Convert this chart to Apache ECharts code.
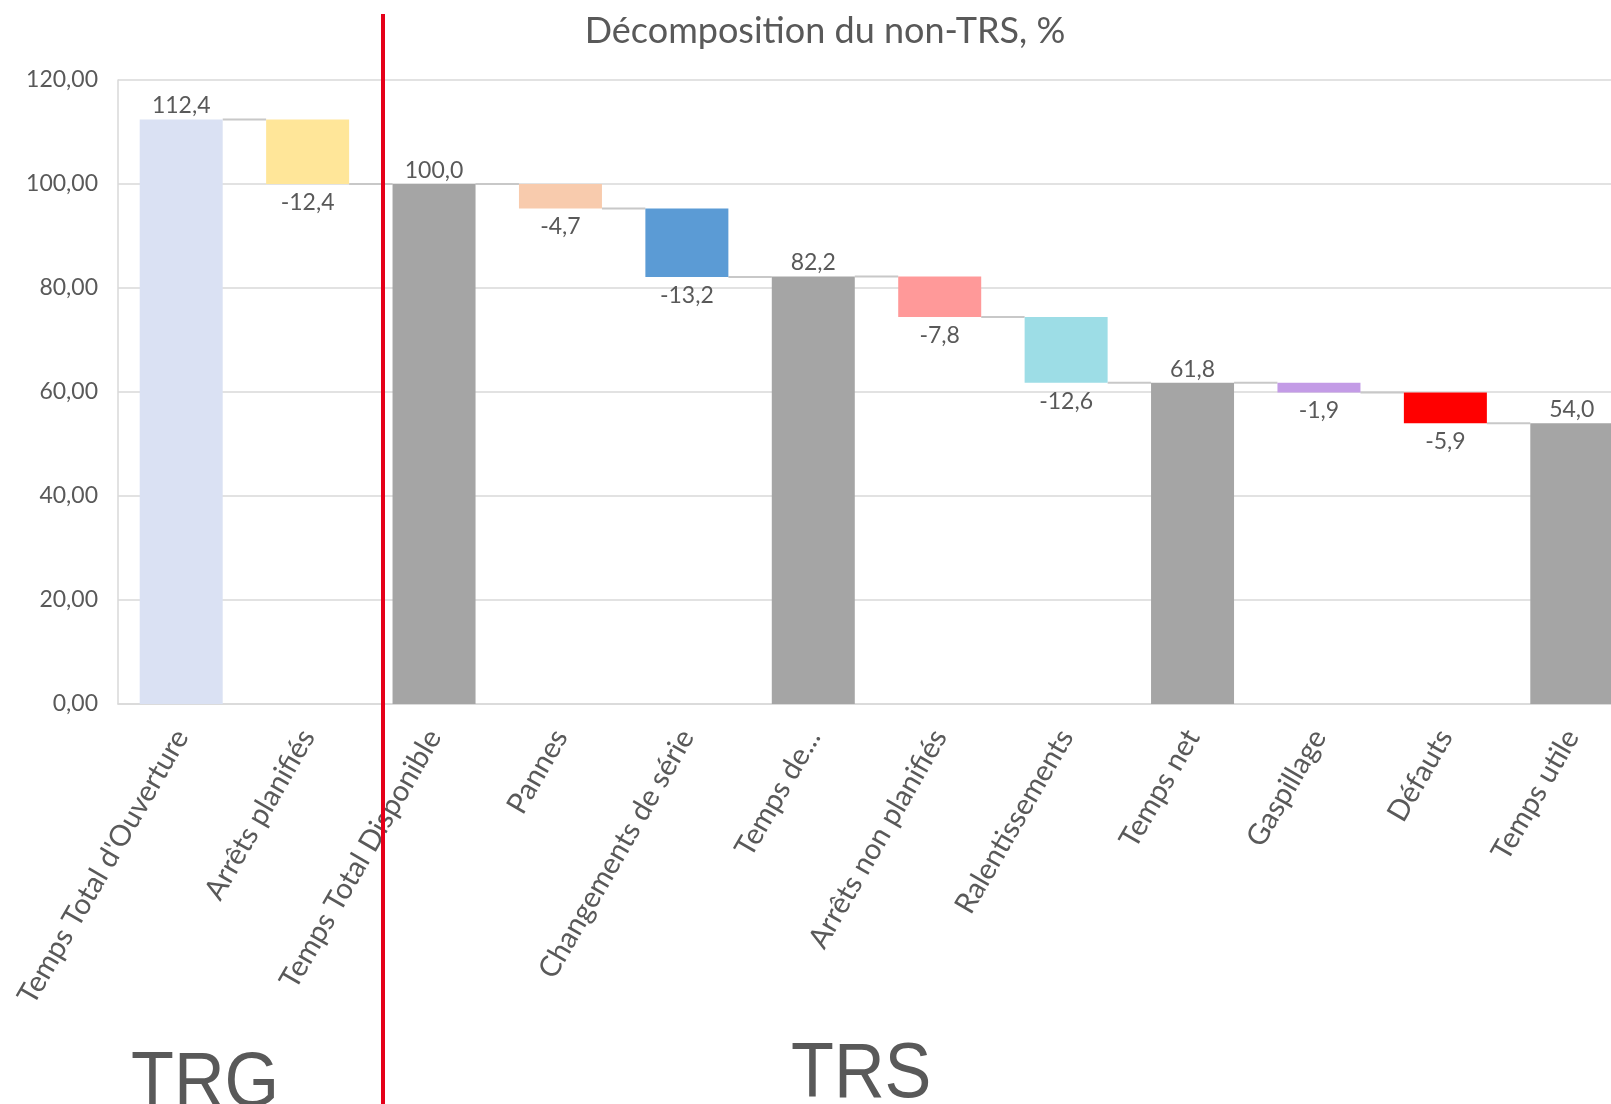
<!DOCTYPE html>
<html>
<head>
<meta charset="utf-8">
<script src="https://cdn.jsdelivr.net/npm/echarts@6/dist/echarts.min.js"></script>
<style>
  html, body { margin: 0; padding: 0; background: #ffffff; }
  #chart { width: 1611px; height: 1104px; }
</style>
</head>
<body>
<div id="chart"></div>
<script>
// Waterfall: décomposition du temps d'ouverture jusqu'au temps utile
const categories = [
  "Temps Total d'Ouverture", 'Arrêts planifiés', 'Temps Total Disponible',
  'Pannes', 'Changements de série', 'Temps de...', 'Arrêts non planifiés',
  'Ralentissements', 'Temps net', 'Gaspillage', 'Défauts', 'Temps utile'
];
// totals are absolute levels, the others are losses
const values = [112.4, -12.4, 100.0, -4.7, -13.2, 82.2, -7.8, -12.6, 61.8, -1.9, -5.9, 54.0];
const isTotal = [true, false, true, false, false, true, false, false, true, false, false, true];
const yTicks = [0, 20, 40, 60, 80, 100, 120];

const barColors = ['#dae1f3', '#ffe699', '#a5a5a5', '#f8cbad', '#5b9bd5', '#a5a5a5',
                   '#ff9999', '#9ddde6', '#a5a5a5', '#c39be6', '#ff0000', '#a5a5a5'];

// running level -> invisible base + visible segment
const baseData = [];
const segData = [];
const levels = [];
let level = 0;
values.forEach(function (v, i) {
  if (isTotal[i]) {
    baseData.push(0);
    segData.push(v);
    level = v;
  } else {
    level = level + v;
    baseData.push(level);
    segData.push(Math.abs(v));
  }
  levels.push(level);
});

const fmt1 = function (v) { return v.toFixed(1).replace('.', ','); };
const fmt2 = function (v) { return v.toFixed(2).replace('.', ','); };
const FONT = 'Lato';
const TXT = '#595959';
const BAR_W = 83;

const connectorData = [];
for (let i = 0; i < values.length - 1; i++) connectorData.push([i, levels[i]]);

const chart = echarts.init(document.getElementById('chart'), null, { renderer: 'canvas' });
chart.setOption({
  animation: false,
  backgroundColor: '#ffffff',
  textStyle: { fontFamily: FONT },
  title: {
    text: 'Décomposition du non-TRS, %',
    left: 820, top: 8,
    textAlign: 'center',
    textStyle: { fontFamily: FONT, fontSize: 36, fontWeight: 'normal', color: TXT }
  },
  grid: { left: 118, top: 80, width: 1517, height: 624, containLabel: false, outerBoundsMode: 'none' },
  xAxis: {
    type: 'category',
    data: categories,
    axisLine: { show: true, lineStyle: { color: '#d9d9d9', width: 1.5 } },
    axisTick: { show: false },
    axisLabel: {
      interval: 0, rotate: 60, margin: 28,
      fontFamily: FONT, fontSize: 29, color: TXT
    },
    splitLine: { show: false }
  },
  yAxis: {
    type: 'value',
    min: yTicks[0], max: yTicks[yTicks.length - 1], interval: yTicks[1] - yTicks[0],
    axisLine: { show: true, lineStyle: { color: '#d9d9d9', width: 1.5 } },
    axisTick: { show: false },
    axisLabel: {
      margin: 20, fontFamily: FONT, fontSize: 23, color: TXT,
      formatter: function (v) { return fmt2(v); }
    },
    splitLine: { show: true, lineStyle: { color: '#d9d9d9', width: 1.5 } }
  },
  series: [
    {
      type: 'custom',
      name: 'connectors',
      silent: true,
      z: 1,
      data: connectorData,
      renderItem: function (params, api) {
        const i = api.value(0);
        const y = api.value(1);
        const p0 = api.coord([i, y]);
        const p1 = api.coord([i + 1, y]);
        return {
          type: 'line',
          shape: { x1: p0[0] + BAR_W / 2, y1: p0[1], x2: p1[0] - BAR_W / 2, y2: p1[1] },
          style: { stroke: '#c8c8c8', lineWidth: 2 }
        };
      }
    },
    {
      type: 'bar',
      name: 'base',
      stack: 'wf',
      barWidth: BAR_W,
      silent: true,
      itemStyle: { color: 'rgba(0,0,0,0)' },
      data: baseData,
      z: 2
    },
    {
      type: 'bar',
      name: 'valeur',
      stack: 'wf',
      barWidth: BAR_W,
      z: 3,
      data: segData.map(function (h, i) {
        return {
          value: h,
          itemStyle: { color: barColors[i] },
          label: {
            show: true,
            position: isTotal[i] ? 'top' : 'bottom',
            distance: isTotal[i] ? 2 : 7,
            fontFamily: FONT, fontSize: 23, color: TXT,
            formatter: function () { return fmt1(values[i]); }
          }
        };
      })
    }
  ],
  graphic: [
    {
      type: 'line', z: 100,
      shape: { x1: 383, y1: 14, x2: 383, y2: 1104 },
      style: { stroke: '#e50019', lineWidth: 4 }
    },
    {
      type: 'text', z: 100, x: 131, y: 1084, scaleX: 0.9,
      style: { text: 'TRG', fontFamily: 'Liberation Sans', fontSize: 78, fill: '#595959',
               textVerticalAlign: 'middle', textAlign: 'left' }
    },
    {
      type: 'text', z: 100, x: 791, y: 1075, scaleX: 0.9,
      style: { text: 'TRS', fontFamily: 'Liberation Sans', fontSize: 78, fill: '#595959',
               textVerticalAlign: 'middle', textAlign: 'left' }
    }
  ]
});
</script>
</body>
</html>
